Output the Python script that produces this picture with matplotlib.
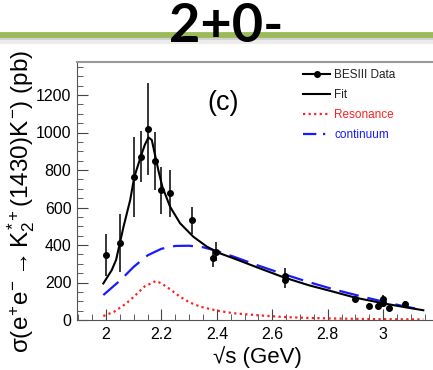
import matplotlib
matplotlib.use('Agg')
import matplotlib.pyplot as plt
from matplotlib.lines import Line2D

# measured cross section points
x_data = [2.0, 2.05, 2.10, 2.125, 2.15, 2.175, 2.20, 2.232, 2.309, 2.386, 2.396,
          2.644, 2.646, 2.90, 2.95, 2.981, 3.0, 3.0, 3.02, 3.08]
y_data = [347, 409, 764, 871, 1017, 848, 693, 676, 531, 330, 364,
          213, 235, 112, 75, 75, 112, 90, 62, 85]
y_err = [112, 154, 213, 137, 245, 153, 125, 124, 73, 45, 50,
         40, 40, 12, 18, 18, 20, 18, 15, 15]

# fit curve
fit_x = [1.99, 2.02, 2.036, 2.063, 2.087, 2.102, 2.127, 2.14, 2.153, 2.165, 2.178,
         2.19, 2.203, 2.231, 2.267, 2.315, 2.364, 2.41, 2.46, 2.55, 2.64, 2.73,
         2.82, 2.90, 3.0, 3.08, 3.145]
fit_y = [195, 265, 320, 498, 640, 764, 880, 935, 974, 960, 871,
         790, 711, 604, 516, 444, 391, 356, 329, 278, 228, 186,
         151, 119, 89, 68, 52]

# continuum component
cont_x = [1.99, 2.05, 2.10, 2.15, 2.20, 2.25, 2.30, 2.35, 2.40, 2.46, 2.55, 2.64,
          2.73, 2.82, 2.91, 3.0, 3.07, 3.145]
cont_y = [133, 210, 284, 345, 380, 395, 396, 388, 368, 338, 290, 245,
          203, 164, 130, 98, 75, 53]

# resonance component
res_x = [1.99, 2.03, 2.07, 2.10, 2.14, 2.18, 2.20, 2.23, 2.267, 2.30, 2.34, 2.40,
         2.46, 2.55, 2.64, 2.73, 2.82, 2.95, 3.05, 3.145]
res_y = [21, 45, 85, 124, 180, 208, 195, 165, 124, 95, 71, 50,
         36, 25, 16, 11, 8, 5, 4, 3]

xticks = [2, 2.2, 2.4, 2.6, 2.8, 3]
xtick_labels = ['2', '2.2', '2.4', '2.6', '2.8', '3']
yticks = [0, 200, 400, 600, 800, 1000, 1200]

plt.rcParams['font.family'] = ['Liberation Sans', 'DejaVu Sans']
plt.rcParams['mathtext.fontset'] = 'custom'
plt.rcParams['mathtext.rm'] = 'Liberation Sans'
plt.rcParams['mathtext.it'] = 'Liberation Sans'
plt.rcParams['mathtext.bf'] = 'Liberation Sans:bold'

W, H = 433, 370
fig = plt.figure(figsize=(W / 100, H / 100), dpi=100)
ax = fig.add_axes([77 / W, 1 - 320 / H, 1 - 77 / W, (320 - 62) / H])

ax.plot(res_x, res_y, color='#ff2020', lw=1.6, ls=(0, (1, 1.5)))
ax.plot(cont_x, cont_y, color='#1a1aff', lw=1.6, ls=(0, (9, 4)))
ax.plot(fit_x, fit_y, color='black', lw=1.5)
ax.errorbar(x_data, y_data, yerr=y_err, fmt='o', color='black', ms=4,
            elinewidth=1.1, capsize=0)

ax.set_xlim(1.895, 3.18)
ax.set_ylim(0, 1376)
ax.set_xticks(xticks)
ax.set_xticklabels(xtick_labels)
ax.set_yticks(yticks)
ax.set_xticks([v / 100 for v in range(190, 318, 5)], minor=True)
ax.set_yticks(list(range(0, 1376, 50)), minor=True)
ax.tick_params(which='both', direction='in', labelsize=11.5, color='#444444')
ax.tick_params(which='major', length=8, pad=5)
ax.tick_params(which='minor', length=4)
ax.tick_params(axis='y', which='major', pad=4)
ax.spines['right'].set_visible(False)
ax.spines['top'].set_color('#999999')
ax.spines['top'].set_linewidth(1.5)
ax.spines['left'].set_color('#555555')
ax.spines['bottom'].set_color('#555555')

ax.text(207 / W, 1 - 103 / H, '(c)', transform=fig.transFigure, fontsize=19.5,
        va='center', ha='left')

handles = [
    Line2D([], [], color='black', marker='o', ms=4, lw=1.5),
    Line2D([], [], color='black', lw=1.5),
    Line2D([], [], color='#ff2020', lw=1.6, ls=(0, (1, 1.5))),
    Line2D([], [], color='#1a1aff', lw=1.6, ls=(0, (6, 3, 1, 3))),
]
labels = ['BESIII Data', 'Fit', 'Resonance', 'continuum']
leg = ax.legend(handles, labels, loc='upper left', bbox_to_anchor=(303 / W, 1 - 69 / H),
                bbox_transform=fig.transFigure, frameon=False, fontsize=8.5,
                handlelength=2.3, handletextpad=0.35, labelspacing=0.68,
                borderpad=0, borderaxespad=0)
for txt, c in zip(leg.get_texts(), ['#222222', '#222222', '#ff2020', '#1a1aff']):
    txt.set_color(c)

fig.text(257 / W, 1 - 357 / H, '\u221as (GeV)', fontsize=16, ha='center', va='center')
fig.text(21 / W, 1 - 353 / H,
         r'$\sigma(e^{+}e^{-}\rightarrow K_{2}^{*+}(1430)K^{-})$ (pb)',
         fontsize=17.5, rotation=90, ha='center', va='bottom')

# slide header bar
fig.add_artist(Line2D([0, 1], [1 - 39 / H, 1 - 39 / H], transform=fig.transFigure,
                      color='#d0d0d0', lw=3))
fig.add_artist(Line2D([0, 1], [1 - 42 / H, 1 - 42 / H], transform=fig.transFigure,
                      color='#ececec', lw=3))
fig.add_artist(Line2D([0, 1], [1 - 34.5 / H, 1 - 34.5 / H], transform=fig.transFigure,
                      color='#9bbb59', lw=4.2))
fig.text(226 / W, 1 - 27 / H, '2+0-', fontsize=39, fontweight='bold',
         family=['Lato', 'DejaVu Sans'], ha='center', va='center', color='black')

fig.savefig('out.png', dpi=100)
